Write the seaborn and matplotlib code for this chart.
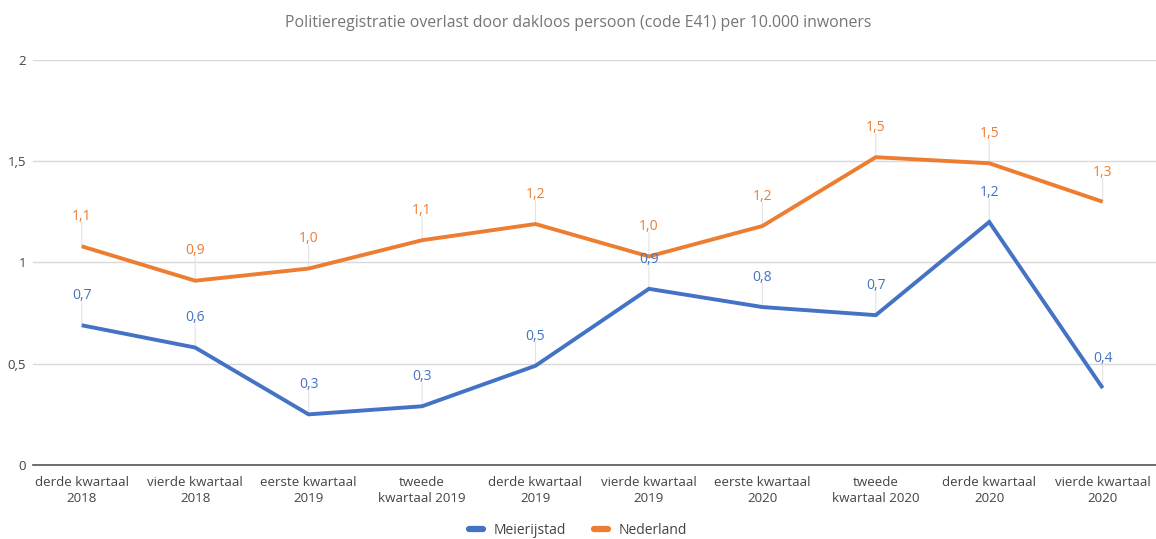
import matplotlib
matplotlib.use('Agg')
import matplotlib.pyplot as plt
import seaborn as sns
import numpy as np
import pandas as pd
from matplotlib.lines import Line2D

# data
kwartalen = ['derde kwartaal\n2018', 'vierde kwartaal\n2018', 'eerste kwartaal\n2019',
             'tweede\nkwartaal 2019', 'derde kwartaal\n2019', 'vierde kwartaal\n2019',
             'eerste kwartaal\n2020', 'tweede\nkwartaal 2020', 'derde kwartaal\n2020',
             'vierde kwartaal\n2020']
meierijstad = [0.69, 0.58, 0.25, 0.29, 0.49, 0.87, 0.78, 0.74, 1.20, 0.38]
nederland = [1.08, 0.91, 0.97, 1.11, 1.19, 1.03, 1.18, 1.52, 1.49, 1.30]
reeksen = ['Meierijstad', 'Nederland']
kleuren = ['#4472C4', '#ED7D31']
y_ticks = [0, 0.5, 1, 1.5, 2]

titel = 'Politieregistratie overlast door dakloos persoon (code E41) per 10.000 inwoners'


def nl_getal(v):
    # round half up, one decimal, comma as separator
    return f'{np.floor(v * 10 + 0.5) / 10:.1f}'.replace('.', ',')


df = pd.DataFrame({
    'pos': list(range(len(kwartalen))) * 2,
    'waarde': meierijstad + nederland,
    'reeks': [reeksen[0]] * len(kwartalen) + [reeksen[1]] * len(kwartalen),
})

sns.set_theme(style='white')
plt.rcParams['font.family'] = ['Open Sans', 'DejaVu Sans']

fig = plt.figure(figsize=(11.56, 5.39), dpi=100)
ax = fig.add_axes([0.0285, 0.1373, 0.9715, 0.7514])

sns.lineplot(data=df, x='pos', y='waarde', hue='reeks', palette=kleuren,
             linewidth=2.8, ax=ax, legend=False, zorder=3)
for line in ax.lines:
    line.set_solid_capstyle('butt')
    line.set_solid_joinstyle('miter')

ax.set_ylim(0, 2)
ax.set_xlim(-0.43, 9.47)
ax.set_yticks(y_ticks)
ax.set_yticklabels([f'{t:g}'.replace('.', ',') for t in y_ticks], color='#444444', fontsize=9.5)
ax.set_xticks(range(len(kwartalen)))
ax.set_xticklabels(kwartalen, color='#444444', fontsize=9.6, linespacing=1.3)
ax.tick_params(axis='x', length=0, pad=8)
ax.tick_params(axis='y', length=0, pad=5)
ax.set_xlabel('')
ax.set_ylabel('')
for s in ['top', 'right', 'left']:
    ax.spines[s].set_visible(False)
ax.spines['bottom'].set_color('#555555')
ax.spines['bottom'].set_linewidth(1.2)
for t in y_ticks[1:]:
    ax.axhline(t, color='#d9d9d9', linewidth=1, zorder=1)

# data labels with leader lines (leaders under the lines, text on top)
for waarden, kleur in zip([meierijstad, nederland], kleuren):
    for i, v in enumerate(waarden):
        ax.annotate('', xy=(i, v), xytext=(0, 17), textcoords='offset points',
                    arrowprops=dict(arrowstyle='-', color='#e3e3e3', lw=0.8,
                                    shrinkA=0, shrinkB=0),
                    zorder=2)
        ax.annotate(nl_getal(v), xy=(i, v), xytext=(0, 16),
                    textcoords='offset points', ha='center', va='bottom',
                    color=kleur, fontsize=10, zorder=5)

fig.text(0.5, 0.957, titel, ha='center', va='center', color='#757575', fontsize=11.4)

handles = [Line2D([0], [0], color=c, linewidth=4.5) for c in kleuren]
fig.legend(handles, reeksen, loc='center', bbox_to_anchor=(0.5, 0.016), ncol=2,
           frameon=False, handlelength=1.0, columnspacing=2.0, handletextpad=0.8,
           labelcolor='#444444', fontsize=10)

fig.savefig('out.png', dpi=100, facecolor='white')
